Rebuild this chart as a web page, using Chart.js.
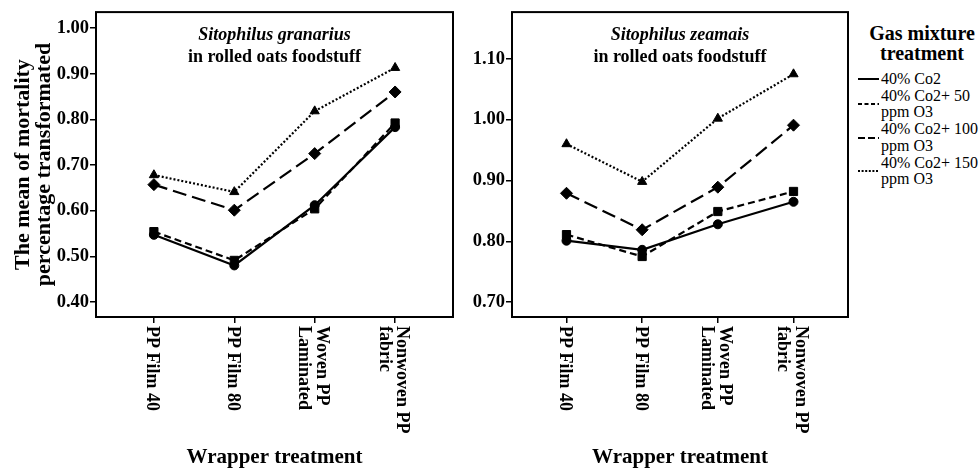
<!DOCTYPE html>
<html>
<head>
<meta charset="utf-8">
<script src="https://cdn.jsdelivr.net/npm/chart.js@4.4.1/dist/chart.umd.min.js"></script>
<style>
  html, body { margin: 0; padding: 0; background: #fff; }
  #wrap { position: relative; width: 980px; height: 470px; overflow: hidden; font-family: "Liberation Serif", "DejaVu Serif", serif; color: #000; }
  #c1 { position: absolute; left: 0; top: 0; }
  #c2 { position: absolute; left: 470px; top: 0; }
  #legendTitle { position: absolute; left: 855px; top: 23px; width: 134px; text-align: center; font-weight: bold; font-size: 20px; line-height: 20px; }
  #legend { position: absolute; left: 855px; top: 71px; width: 125px; }
  #legend .item { display: flex; align-items: center; font-size: 16px; line-height: 16.7px; }
  #legend svg { flex: none; margin-left: 3px; margin-right: 2px; }
</style>
</head>
<body>
<div id="wrap">
  <canvas id="c1" width="470" height="470"></canvas>
  <canvas id="c2" width="385" height="470"></canvas>
  <div id="legendTitle">Gas mixture<br>treatment</div>
  <div id="legend"></div>
</div>
<script>
// wrapper treatments (x categories), one entry per text line
const categories = [['PP Film 40'], ['PP Film 80'], ['Woven PP', 'Laminated'], ['Nonwoven PP', 'fabric']];
const seriesNames = [['40% Co2'], ['40% Co2+ 50', 'ppm O3'], ['40% Co2+ 100', 'ppm O3'], ['40% Co2+ 150', 'ppm O3']];

// Sitophilus granarius
const granariusCo2 = [0.547, 0.480, 0.612, 0.783];
const granariusO3_50 = [0.554, 0.491, 0.604, 0.792];
const granariusO3_100 = [0.657, 0.601, 0.725, 0.860];
const granariusO3_150 = [0.678, 0.641, 0.818, 0.913];
const granariusTicks = [0.40, 0.50, 0.60, 0.70, 0.80, 0.90, 1.00];

// Sitophilus zeamais
const zeamaisCo2 = [0.801, 0.786, 0.828, 0.865];
const zeamaisO3_50 = [0.811, 0.775, 0.849, 0.882];
const zeamaisO3_100 = [0.879, 0.819, 0.889, 0.991];
const zeamaisO3_150 = [0.960, 0.898, 1.002, 1.075];
const zeamaisTicks = [0.70, 0.80, 0.90, 1.00, 1.10];

// line / marker styles per series
const dashes = [[], [7, 4], [14, 6], [2, 2]];
const legendDashes = ['', '4 2.5', '7 3', '2 1.6'];
const markers = ['circle', 'rect', 'rectRot', 'triangle'];
const radii = [4.5, 5.8, 6, 5.3];

const FONT = '"Liberation Serif", "DejaVu Serif", serif';

const decor = {
  id: 'decor',
  afterDraw(chart, args, opts) {
    const { ctx, chartArea: a } = chart;
    ctx.save();
    ctx.strokeStyle = '#000';
    ctx.lineWidth = 2;
    ctx.strokeRect(a.left, a.top, a.right - a.left, a.bottom - a.top);

    ctx.fillStyle = '#000';
    ctx.textAlign = 'center';
    ctx.textBaseline = 'middle';
    const cx = (a.left + a.right) / 2;
    ctx.font = 'italic bold 18px ' + FONT;
    ctx.fillText(opts.species, cx, a.top + 23);
    ctx.font = 'bold 18px ' + FONT;
    ctx.fillText(opts.subtitle, cx, a.top + 45);

    // x labels read top to bottom, so draw them here
    const xs = chart.scales.x;
    ctx.font = 'bold 18px ' + FONT;
    ctx.textAlign = 'left';
    categories.forEach((lines, i) => {
      ctx.save();
      ctx.translate(xs.getPixelForValue(i) - 2, a.bottom + 9);
      ctx.rotate(Math.PI / 2);
      lines.forEach((t, k) => ctx.fillText(t, 0, (k - (lines.length - 1) / 2) * 17.5));
      ctx.restore();
    });
    ctx.restore();
  }
};

function makeChart(id, species, series, yMin, yMax, yTicks, yTitle, leftW, rightPad) {
  return new Chart(document.getElementById(id), {
    type: 'line',
    data: {
      datasets: series.map((vals, i) => ({
        label: seriesNames[i].join(' '),
        data: vals.map((v, j) => ({ x: j, y: v })),
        borderColor: '#000',
        backgroundColor: '#000',
        borderWidth: 2.2,
        borderDash: dashes[i],
        tension: 0,
        pointStyle: markers[i],
        pointRadius: radii[i],
        pointBorderWidth: 1,
        pointBackgroundColor: '#000',
        pointBorderColor: '#000'
      }))
    },
    options: {
      responsive: false,
      animation: false,
      layout: { padding: { left: 0, right: rightPad, top: 10, bottom: 0 } },
      plugins: {
        legend: { display: false },
        tooltip: { enabled: false },
        decor: { species: species, subtitle: 'in rolled oats foodstuff' }
      },
      scales: {
        x: {
          type: 'linear',
          min: -0.72,
          max: 3.72,
          afterBuildTicks: s => { s.ticks = categories.map((c, i) => ({ value: i })); },
          afterFit: s => { s.height = 153; },
          ticks: { display: false },
          grid: { drawOnChartArea: false, tickLength: 6, color: '#000', lineWidth: 1.5 },
          border: { display: false },
          title: {
            display: true,
            text: 'Wrapper treatment',
            color: '#000',
            font: { family: FONT, size: 21, weight: 'bold' },
            padding: { top: 0, bottom: 0 }
          }
        },
        y: {
          min: yMin,
          max: yMax,
          afterBuildTicks: s => { s.ticks = yTicks.map(v => ({ value: v })); },
          afterFit: s => { s.width = leftW; },
          ticks: {
            color: '#000',
            padding: 1,
            font: { family: FONT, size: 18.5, weight: 'bold' },
            callback: v => Number(v).toFixed(2)
          },
          grid: { drawOnChartArea: false, tickLength: 6, color: '#000', lineWidth: 1.5 },
          border: { display: false },
          title: {
            display: !!yTitle,
            text: yTitle || '',
            color: '#000',
            font: { family: FONT, size: 22, weight: 'bold', lineHeight: 0.96 },
            padding: { top: 12.5, bottom: 0 }
          }
        }
      }
    },
    plugins: [decor]
  });
}

makeChart('c1', 'Sitophilus granarius',
  [granariusCo2, granariusO3_50, granariusO3_100, granariusO3_150],
  0.367, 1.035, granariusTicks, ['The mean of mortality', 'percentage transformated'], 96, 17);

makeChart('c2', 'Sitophilus zeamais',
  [zeamaisCo2, zeamaisO3_50, zeamaisO3_100, zeamaisO3_150],
  0.6755, 1.177, zeamaisTicks, null, 42, 5);

// legend
const legendEl = document.getElementById('legend');
seriesNames.forEach((lines, i) => {
  const item = document.createElement('div');
  item.className = 'item';
  item.innerHTML =
    '<svg width="21" height="6"><line x1="0" y1="3" x2="21" y2="3" stroke="#000" stroke-width="2"' +
    (legendDashes[i] ? ' stroke-dasharray="' + legendDashes[i] + '"' : '') + '/></svg>' +
    '<span>' + lines.join('<br>') + '</span>';
  legendEl.appendChild(item);
});
</script>
</body>
</html>
